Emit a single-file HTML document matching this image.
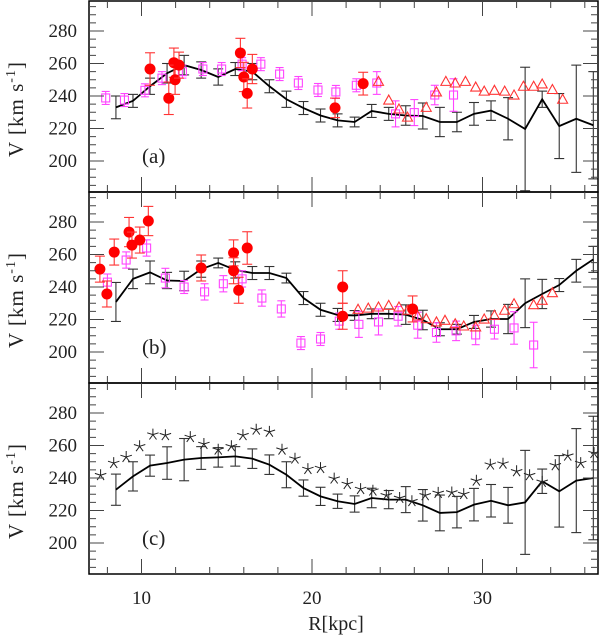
<!DOCTYPE html>
<html><head><meta charset="utf-8"><style>
html,body{margin:0;padding:0;background:#fff;}
svg{display:block;font-family:"Liberation Serif",serif;}
</style></head><body>
<svg id="chart" width="603" height="639" viewBox="0 0 603 639"></svg>
<script>
// ---- data ----
const modelR = [8.5,9.5,10.5,11.5,12.5,13.5,14.5,15.5,16.5,17.5,18.5,19.5,20.5,21.5,22.5,23.5,24.5,25.5,26.5,27.5,28.5,29.5,30.5,31.5,32.5,33.5,34.5,35.5,36.5];
const modelA = [233,237,246,254,259,256,251.7,256.6,255,246,238,232.6,228,225,224,230.8,229,228,227.7,224,224,229,231,226,219.7,238,221.5,226,222];
const errA   = [7,4,5,6,6,5,5,4,5,4,5,4,4,4,3,4,4,6,8,9,6,7,6,13,38,5,20,33,33];
const modelB = [230.8,245,249,244,243.7,251,254.8,250.5,248.6,248.6,245.5,233.2,226,222.8,222.5,223.5,223.5,223,219.7,214,214,218.5,220.3,220.3,230,235.7,241.2,250,257];
const errB   = [12,6,7,5,6,5,3,5,4,4,3,4,4,4,3,3,3,6,6,4,3,4,5,9,15,9,4,7,8];
const modelC = [232.8,241,247.6,249.2,251.3,252.3,252.7,253.3,251.9,248.2,242,233.8,228.7,225.7,224,227.7,226.7,226.7,223.2,218.5,219,223.6,226,223.2,225,238,231.8,238.4,240];
const errC   = [9.6,9,6.5,10,13,7,6,6,6,6,8,5,5.6,4.4,5,6,5.6,8,9.7,11,9.7,10,10,11,32,7.5,22,32,38];

const circAR = [10.5,11.6,11.9,11.97,12.2,15.8,16.0,16.2,16.5,21.35,23.0];
const circAV = [256.6,238.6,260.5,250,259,266.5,251.7,241.6,256.6,232.7,247.6];
const circAE = [10,10,9,9,8,9,9,9,9,6,7];
const sqAR = [7.9,9.0,10.2,11.2,12.4,13.6,14.7,15.9,17.0,18.1,19.2,20.35,21.4,22.6,23.8,24.9,26.0,27.2,28.3];
const sqAV = [238.8,237.5,243.5,251,255,256.6,256.6,259.6,259.6,253.5,248,243.7,242.5,246.6,248,229,229.8,240.6,240.6];
const sqAE = [4,4,4,4,4,4,4,4,4,4,4,4,4,4,7,8,8,6,10];
const triAR = [23.9,24.5,25.1,25.6,26.7,27.3,27.85,28.4,29.0,29.6,30.1,30.7,31.3,31.85,32.4,33.0,33.5,34.1,34.7];
const triAV = [249,237.5,232,227,233,242.5,249,248,249,245.5,243,243.5,243,240.6,246,246,247.4,244,238];

const circBR = [7.56,7.97,8.4,9.27,9.44,9.9,10.4,13.5,15.4,15.4,15.7,16.2,21.8,21.8,25.9];
const circBV = [251,235.7,261.5,273.8,265.8,268.9,280.6,251.7,261,250,238,264,240,222,226.5];
const circBE = [8,8,8,9,8,8,9,8,8,8,8,10,10,8,8];
const sqBR = [8.0,9.1,10.3,11.4,12.5,13.7,14.8,15.9,17.06,18.2,19.35,20.5,21.6,22.75,23.9,25.05,26.2,27.3,28.45,29.6,30.7,31.85,33.0];
const sqBV = [243,256.6,264,245.5,240,237,242,245,233.2,226.5,205.5,208,219,217,218.5,222,216.5,212,213,210.5,214,214.8,204.3];
const sqBE = [5,5,5,6,4,5,5,5,5,5,4,4,5,8,8,6,8,6,6,6,6,10,14];
const triBR = [22.7,23.3,23.9,24.5,25.1,25.6,26.2,26.7,27.3,27.8,28.4,28.9,29.6,30.1,30.7,31.3,31.85,33.0,33.5,34.1];
const triBV = [226.3,227,227.7,228.7,227.7,225.7,222.2,220.5,218.5,219.5,217.4,216,215.4,220.3,222.6,225.7,229.7,229.1,231.8,236.5];

const starR = [7.6,8.37,9.1,9.89,10.67,11.4,12.86,13.66,14.5,15.27,15.95,16.73,17.5,18.24,19.0,19.76,20.5,21.3,22.07,22.85,23.57,24.36,25.14,25.86,26.64,27.4,28.2,28.9,29.64,30.46,31.2,32.0,32.76,33.5,34.27,35.0,35.76,36.54];
const starV = [241.7,249.2,252.9,259.5,266.7,266.3,265.2,260.9,257.4,259.5,266.3,269.7,268.4,257.4,251.9,245.5,246.1,239.6,236.3,233.2,232.2,229.3,227.7,225.7,229.3,230.8,231.1,230.1,238.3,248.2,248.8,244.1,241.7,237.6,247.8,253.7,249.2,255.3];

const yTicks = [200,220,240,260,280];
const xTicks = [10,20,30];
const panelLabels = ["(a)","(b)","(c)"];

// ---- geometry ----
const L=89, RGT=598;
const panelTop=[1,192,383];
const PH=191;
const xs = r => 141.5 + (r-10)*17.05;
const ysF = p => v => panelTop[p] + 30 - (v-280)*1.625;

const svg=document.getElementById('chart');
const NS='http://www.w3.org/2000/svg';
function mk(tag,attrs,parent){const e=document.createElementNS(NS,tag);for(const k in attrs)e.setAttribute(k,attrs[k]);(parent||svg).appendChild(e);return e;}

function errbar(g,x,y1,y2,w,col,sw){
  mk('line',{x1:x,x2:x,y1:y1,y2:y2,stroke:col,'stroke-width':sw},g);
  mk('line',{x1:x-w,x2:x+w,y1:y1,y2:y1,stroke:col,'stroke-width':sw},g);
  mk('line',{x1:x-w,x2:x+w,y1:y2,y2:y2,stroke:col,'stroke-width':sw},g);
}

function drawPanel(p, model, err){
  const ys=ysF(p);
  const g=mk('g',{});
  
  
  const clipId='clip'+p;
  const cp=mk('clipPath',{id:clipId},g);
  mk('rect',{x:L,y:panelTop[p],width:RGT-L,height:PH},cp);
  const inner=mk('g',{'clip-path':'url(#'+clipId+')'},g);
  const eg=mk('g',{},inner);
  
  
  modelR.forEach((r,i)=>errbar(eg,xs(r),ys(model[i]+err[i]),ys(model[i]-err[i]),5,'#333',1.1));
  const pl=mk('polyline',{points:modelR.map((r,i)=>xs(r)+','+ys(model[i])).join(' '),fill:'none',stroke:'#000','stroke-width':1.8},inner);
  
  
  return {g,inner,ys};
}

function squares(inner,ys,R,V,E){
  const g=mk('g',{},inner);
  
  
  R.forEach((r,i)=>{
    errbar(g,xs(r),ys(V[i]+E[i]),ys(V[i]-E[i]),4,'#ff44ff',1.1);
    mk('rect',{x:xs(r)-4,y:ys(V[i])-4,width:8,height:8,fill:'none',stroke:'#ff44ff','stroke-width':1.1},g);
  });
}
function circles(inner,ys,R,V,E){
  const g=mk('g',{},inner);
  
  
  R.forEach((r,i)=>{
    errbar(g,xs(r),ys(V[i]+E[i]),ys(V[i]-E[i]),5,'#f33',1.1);
    mk('circle',{cx:xs(r),cy:ys(V[i]),r:5.5,fill:'#f00'},g);
  });
}
function triangles(inner,ys,R,V){
  const g=mk('g',{},inner);
  
  
  R.forEach((r,i)=>{
    const x=xs(r),y=ys(V[i]);
    mk('polygon',{points:`${x-5},${y+4} ${x+5},${y+4} ${x},${y-5}`,fill:'none',stroke:'#f33','stroke-width':1.1},g);
  });
}
function stars(inner,ys,R,V){
  const g=mk('g',{},inner);
  
  
  R.forEach((r,i)=>{
    const x=xs(r),y=ys(V[i]);let d='';
    for(let k=0;k<5;k++){const a=-Math.PI/2+k*2*Math.PI/5;d+=`M${x} ${y}L${(x+6*Math.cos(a)).toFixed(1)} ${(y+6*Math.sin(a)).toFixed(1)}`;}
    mk('path',{d:d,fill:'none',stroke:'#222','stroke-width':1},g);
  });
}

function axes(p){
  const ys=ysF(p);const t=panelTop[p];
  const g=mk('g',{});
  
  
  mk('rect',{x:L,y:t,width:RGT-L,height:PH,fill:'none',stroke:'#000','stroke-width':1.5},g);
  for(let v=185;v<=300;v+=5){
    const y=ys(v);if(y<t+1||y>t+PH-1)continue;
    const len=v%20===0?15:7;
    mk('line',{x1:L,x2:L+len,y1:y,y2:y,stroke:'#444','stroke-width':1},g);
    mk('line',{x1:RGT,x2:RGT-len,y1:y,y2:y,stroke:'#444','stroke-width':1},g);
  }
  for(let r=8;r<=36;r+=2){
    const x=xs(r);const len=r%10===0?15:7;
    mk('line',{x1:x,x2:x,y1:t,y2:t+len,stroke:'#444','stroke-width':1},g);
    mk('line',{x1:x,x2:x,y1:t+PH,y2:t+PH-len,stroke:'#444','stroke-width':1},g);
  }
  yTicks.forEach(v=>{
    const tx=mk('text',{x:77,y:ys(v)+6,'text-anchor':'end','font-size':19,fill:'#222'},g);
    tx.textContent=v;
    
    
  });
  const lab=mk('text',{x:142,y:t+162,'font-size':21,fill:'#222'},g);
  lab.textContent=panelLabels[p];
  
  
  const yl=mk('text',{transform:`translate(23,${t+108}) rotate(-90)`,'text-anchor':'middle','font-size':21,'letter-spacing':'1',fill:'#222'},g);
  yl.innerHTML='V  [km  s<tspan dy="-8" font-size="14">-1</tspan><tspan dy="8">]</tspan>';
  
  
}

let a=drawPanel(0,modelA,errA);
squares(a.inner,a.ys,sqAR,sqAV,sqAE);
triangles(a.inner,a.ys,triAR,triAV);
circles(a.inner,a.ys,circAR,circAV,circAE);
let b=drawPanel(1,modelB,errB);
squares(b.inner,b.ys,sqBR,sqBV,sqBE);
triangles(b.inner,b.ys,triBR,triBV);
circles(b.inner,b.ys,circBR,circBV,circBE);
let c=drawPanel(2,modelC,errC);
stars(c.inner,c.ys,starR,starV);
[0,1,2].forEach(axes);

xTicks.forEach(r=>{
  const tx=mk('text',{x:xs(r),y:604,'text-anchor':'middle','font-size':19,fill:'#222'});
  tx.textContent=r;
  
  
});
const xt=mk('text',{x:336,y:630,'text-anchor':'middle','font-size':20,fill:'#222'});
xt.textContent='R[kpc]';


</script>
</body></html>
